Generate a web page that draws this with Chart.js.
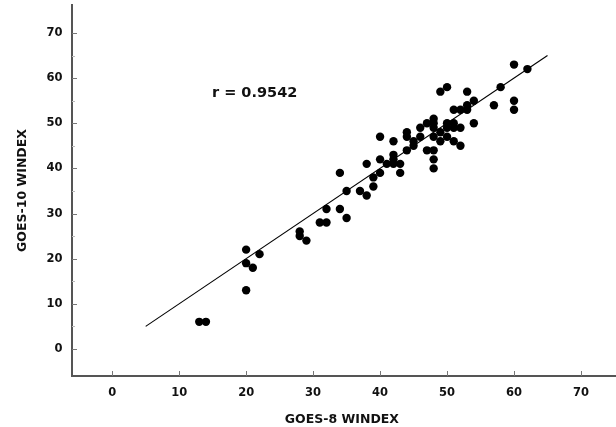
<!DOCTYPE html>
<html>
<head>
<meta charset="utf-8">
<title>GOES-8 vs GOES-10 WINDEX</title>
<script src="https://cdn.jsdelivr.net/npm/chart.js@4/dist/chart.umd.min.js"></script>
<style>
  html, body { margin: 0; padding: 0; background: #fff; }
  #wrap { width: 616px; height: 427px; }
</style>
</head>
<body>
<div id="wrap"><canvas id="chart" width="616" height="427"></canvas></div>
<script>
// paired WINDEX values, one entry per case
const goes8 = [13, 14, 20, 20, 21, 22, 20, 28, 28, 29, 31, 32, 32, 34, 35,
  34, 35, 37, 38, 38, 39, 39, 40, 40, 40, 41, 42, 43, 43, 42, 42, 42,
  44, 44, 44, 45, 45, 46, 46, 47, 47, 48, 48, 48, 48, 48, 48, 48,
  49, 50, 49, 49, 50, 50, 50, 51, 51, 51, 51, 52, 52, 52,
  53, 53, 53, 54, 54, 57, 58, 60, 62, 60, 60];
const goes10 = [6, 6, 22, 19, 18, 21, 13, 26, 25, 24, 28, 28, 31, 31, 29,
  39, 35, 35, 34, 41, 38, 36, 47, 42, 39, 41, 41, 41, 39, 46, 43, 42,
  48, 47, 44, 46, 45, 49, 47, 50, 44, 51, 50, 49, 47, 44, 42, 40,
  57, 58, 48, 46, 50, 49, 47, 50, 49, 46, 53, 53, 49, 45,
  57, 54, 53, 55, 50, 54, 58, 63, 62, 55, 53];

// fitted line end points
const fitX = [5, 65];
const fitY = [5, 65];

const xTicks = [0, 10, 20, 30, 40, 50, 60, 70];
const yTicks = [0, 10, 20, 30, 40, 50, 60, 70];
const yMinor = [5, 15, 25, 35, 45, 55, 65];

const corrLabel = 'r = 0.9542';

const FONT = '"DejaVu Sans", Arial, sans-serif';
const INK = '#111';
const AXIS = '#555';

const points = goes8.map((x, i) => ({ x: x, y: goes10[i] }));
const fit = fitX.map((x, i) => ({ x: x, y: fitY[i] }));

// drop the label overhang padding so the axes run edge to edge
const noPad = s => { s.paddingTop = 0; s.paddingBottom = 0; s.paddingLeft = 0; s.paddingRight = 0; };

// short tick marks pointing into the plot, plus the r label
const innerTicks = {
  id: 'innerTicks',
  afterDraw(chart) {
    const { ctx, chartArea, scales } = chart;
    const xs = scales.x, ys = scales.y;
    ctx.save();

    // x axis runs on to the right edge of the canvas
    const axisY = Math.round(chartArea.bottom);
    ctx.strokeStyle = AXIS;
    ctx.lineWidth = 2;
    ctx.beginPath();
    ctx.moveTo(chartArea.right - 1, axisY);
    ctx.lineTo(chart.width, axisY);
    ctx.stroke();

    ctx.strokeStyle = '#777';
    ctx.lineWidth = 1;
    ctx.beginPath();
    xTicks.forEach(v => {
      const px = Math.round(xs.getPixelForValue(v)) + 0.5;
      ctx.moveTo(px, chartArea.bottom);
      ctx.lineTo(px, chartArea.bottom - 5);
    });
    yTicks.forEach(v => {
      const py = Math.round(ys.getPixelForValue(v)) + 0.5;
      ctx.moveTo(chartArea.left, py);
      ctx.lineTo(chartArea.left + 5, py);
    });
    ctx.stroke();
    ctx.strokeStyle = '#bbb';
    ctx.beginPath();
    yMinor.forEach(v => {
      const py = Math.round(ys.getPixelForValue(v)) + 0.5;
      ctx.moveTo(chartArea.left, py);
      ctx.lineTo(chartArea.left + 3, py);
    });
    ctx.stroke();

    ctx.fillStyle = INK;
    ctx.font = 'bold 14.5px ' + FONT;
    ctx.textAlign = 'left';
    ctx.textBaseline = 'middle';
    ctx.fillText(corrLabel, xs.getPixelForValue(14.9), ys.getPixelForValue(56.7));
    ctx.restore();
  }
};

new Chart(document.getElementById('chart'), {
  type: 'scatter',
  data: {
    datasets: [
      {
        label: 'cases',
        data: points,
        backgroundColor: '#000',
        borderColor: '#000',
        pointRadius: 4.2,
        pointHoverRadius: 4.2,
        borderWidth: 0
      },
      {
        label: 'fit',
        data: fit,
        showLine: true,
        borderColor: '#000',
        borderWidth: 1.1,
        pointRadius: 0,
        fill: false
      }
    ]
  },
  options: {
    responsive: false,
    animation: false,
    layout: { padding: { top: 5, right: 0, left: 0, bottom: 0 } },
    plugins: {
      legend: { display: false },
      tooltip: { enabled: false }
    },
    scales: {
      x: {
        type: 'linear',
        min: -6,
        max: 74.6,
        afterBuildTicks: s => { s.ticks = xTicks.map(v => ({ value: v })); },
        afterFit: s => { s.height = 51; noPad(s); },
        grid: { display: true, drawOnChartArea: false, drawTicks: false },
        border: { display: true, color: AXIS, width: 2 },
        ticks: {
          color: INK,
          padding: 10.5,
          maxRotation: 0,
          font: { family: FONT, size: 11.5, weight: 'bold' }
        },
        title: {
          display: true,
          text: 'GOES-8 WINDEX',
          color: INK,
          padding: { top: 0, bottom: 0 },
          font: { family: FONT, size: 12.5, weight: 'bold' }
        }
      },
      y: {
        type: 'linear',
        min: -6,
        max: 76.2,
        afterBuildTicks: s => { s.ticks = yTicks.map(v => ({ value: v })); },
        afterFit: s => { s.width = 72; noPad(s); },
        grid: { display: true, drawOnChartArea: false, drawTicks: false },
        border: { display: true, color: AXIS, width: 2 },
        ticks: {
          color: INK,
          padding: 9.5,
          font: { family: FONT, size: 11.5, weight: 'bold' }
        },
        title: {
          display: true,
          text: 'GOES-10 WINDEX',
          color: INK,
          padding: { top: 15, bottom: 0 },
          font: { family: FONT, size: 12.5, weight: 'bold' }
        }
      }
    }
  },
  plugins: [innerTicks]
});
</script>
</body>
</html>
